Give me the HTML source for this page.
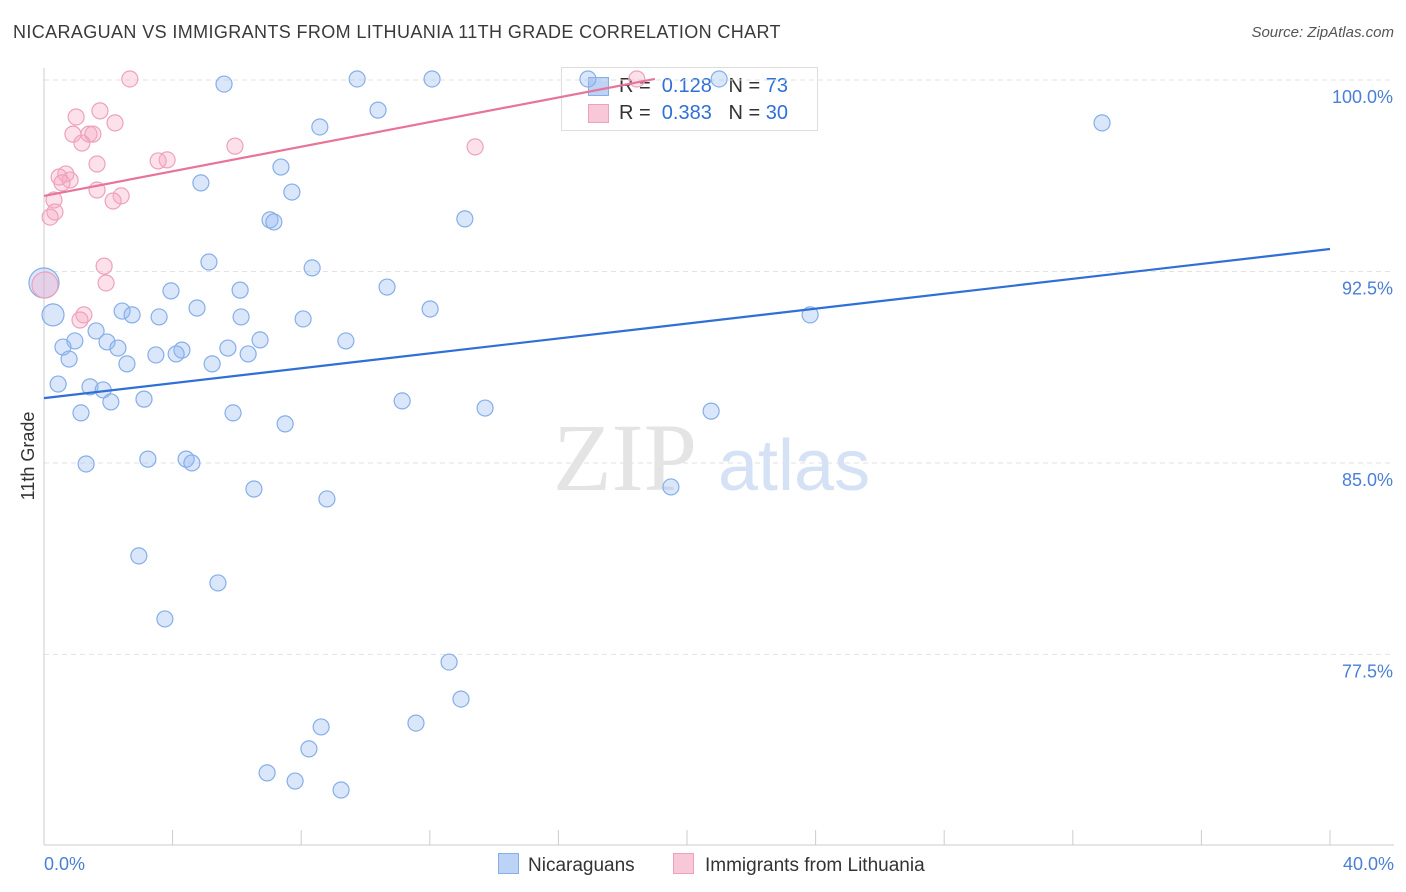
<!DOCTYPE html>
<html><head><meta charset="utf-8">
<style>
body{margin:0;background:#fff;font-family:"Liberation Sans",sans-serif;}
#c{position:relative;width:1406px;height:892px;overflow:hidden;}
.t{position:absolute;white-space:nowrap;}
</style></head>
<body>
<div id="c">
<div class="t" style="left:13px;top:22px;font-size:18px;color:#3a3a3a;letter-spacing:0.38px">NICARAGUAN VS IMMIGRANTS FROM LITHUANIA 11TH GRADE CORRELATION CHART</div>
<div class="t" style="right:12px;top:24px;font-size:15px;color:#555;font-style:italic">Source: ZipAtlas.com</div>
<div class="t" style="left:561px;top:67px;width:255px;height:62px;border:1px solid #ddd;background:#fff;font-size:20px;color:#333;z-index:1">
 <div style="position:absolute;left:26px;top:9px;width:19px;height:17px;background:#bcd3f5;border:1px solid #86aee8"></div>
 <div style="position:absolute;left:57px;top:7px">R = &nbsp;<span style="color:#2f6fd6">0.128</span>&nbsp;&nbsp;&nbsp;N = <span style="color:#2f6fd6">73</span></div>
 <div style="position:absolute;left:26px;top:36px;width:19px;height:17px;background:#f8c8d8;border:1px solid #eda2bc"></div>
 <div style="position:absolute;left:57px;top:34px">R = &nbsp;<span style="color:#2f6fd6">0.383</span>&nbsp;&nbsp;&nbsp;N = <span style="color:#2f6fd6">30</span></div>
</div>
<svg id="s" width="1406" height="892" style="position:absolute;left:0;top:0;z-index:2"></svg>
</div>
<script>
const yTicks=[100,92.5,85,77.5];
const yTickLabels=["100.0%","92.5%","85.0%","77.5%"];
const xTickLabels=["0.0%","40.0%"];
const blueX=[5.60,9.74,12.07,16.92,21.0,10.39,8.58,32.91,7.37,4.88,7.71,7.03,7.15,13.09,5.13,8.34,3.95,6.10,10.67,4.76,2.43,2.74,3.58,6.13,8.06,12.01,23.83,0.28,0.0,1.62,0.96,0.59,1.96,2.30,6.72,9.39,5.72,4.29,4.11,3.48,6.35,5.23,2.58,0.78,0.44,1.43,1.84,2.08,3.11,11.14,13.72,20.75,1.15,5.88,7.50,3.23,4.42,4.60,1.31,6.53,8.80,19.50,2.95,5.41,3.76,12.60,12.97,8.62,11.57,8.24,6.94,7.81,9.24];
const blueY=[99.84,100.04,100.04,100.04,100.04,98.82,98.16,98.32,96.59,95.97,95.61,94.52,94.44,94.56,92.87,92.64,91.74,91.77,91.89,91.07,90.95,90.80,90.72,90.72,90.64,91.03,90.80,90.80,92.05,90.17,89.78,89.54,89.74,89.50,89.82,89.78,89.50,89.42,89.27,89.23,89.27,88.88,88.88,89.07,88.09,87.98,87.86,87.39,87.50,87.43,87.15,87.03,86.96,86.96,86.53,85.15,85.15,85.00,84.96,83.98,83.59,84.06,81.36,80.30,78.89,77.20,75.75,74.66,74.81,73.80,72.86,72.54,72.19];
const blueSize=blueX.map((v,i)=>i===27?11:(i===28?15:8));
const pinkX=[2.67,18.44,1.00,1.74,2.21,0.90,1.40,1.52,1.18,5.94,13.41,1.65,3.83,3.55,0.68,0.47,0.81,0.56,1.65,2.40,2.15,0.31,0.34,0.19,1.87,1.93,0.03,1.24,1.12];
const pinkY=[100.04,100.04,98.55,98.79,98.32,97.88,97.88,97.88,97.53,97.41,97.38,96.71,96.87,96.83,96.32,96.20,96.08,95.97,95.69,95.46,95.26,95.30,94.83,94.63,92.71,92.05,91.97,90.80,90.60];
const pinkSize=pinkX.map((v,i)=>i===26?13:8);
const blueTrendX=[0,40], blueTrendY=[87.54,93.38];
const pinkTrendX=[0,19], pinkTrendY=[95.46,100.04];

const X=v=>44+v/40*1286;
const Y=v=>80+(100-v)*25.53;
const s=document.getElementById('s');
const NS='http://www.w3.org/2000/svg';
function mk(tag,at,parent){const e=document.createElementNS(NS,tag);for(const k in at)e.setAttribute(k,at[k]);(parent||s).appendChild(e);return e;}

yTicks.forEach((v,i)=>{
 const g=mk('line',{x1:44,x2:1394,y1:Y(v),y2:Y(v),stroke:'#e2e2e2','stroke-dasharray':'5,4'});
 
 
 const t=mk('text',{x:1393,y:Y(v)+23,'text-anchor':'end','font-size':18,fill:'#4a7fd6','font-family':'Liberation Sans'});
 t.textContent=yTickLabels[i];
 
 
});
const ax=mk('line',{x1:44,x2:44,y1:68,y2:845,stroke:'#ccc'});


const bx=mk('line',{x1:44,x2:1394,y1:845,y2:845,stroke:'#ccc'});


for(let i=0;i<=10;i++){
 const tk=mk('line',{x1:X(i*4),x2:X(i*4),y1:830,y2:845,stroke:'#ccc'});
 
 
}
[[0,'start',44],[1,'end',1394]].forEach(([i,a,x])=>{
 const t=mk('text',{x:x,y:870,'text-anchor':a,'font-size':18,fill:'#4a7fd6','font-family':'Liberation Sans'});
 t.textContent=xTickLabels[i];
 
 
});
const yt=mk('text',{x:0,y:0,transform:'translate(34,456) rotate(-90)','text-anchor':'middle','font-size':18,fill:'#333','font-family':'Liberation Sans'});
yt.textContent='11th Grade';



const wm=mk('text',{x:553,y:490,'font-size':96,fill:'#e4e4e4','font-family':'Liberation Serif'});
wm.textContent='ZIP';


const wm2=mk('text',{x:718,y:490,'font-size':72,fill:'#d5e2f5','font-family':'Liberation Sans'});
wm2.textContent='atlas';



blueX.forEach((v,i)=>{
 const c=mk('circle',{cx:X(v),cy:Y(blueY[i]),r:blueSize[i],fill:'rgba(150,185,240,0.35)',stroke:'#86aee8','stroke-width':1.2});
 
 
});
pinkX.forEach((v,i)=>{
 const c=mk('circle',{cx:X(v),cy:Y(pinkY[i]),r:pinkSize[i],fill:'rgba(245,170,195,0.35)',stroke:'#eda2bc','stroke-width':1.2});
 
 
});
const bl=mk('line',{x1:X(blueTrendX[0]),y1:Y(blueTrendY[0]),x2:X(blueTrendX[1]),y2:Y(blueTrendY[1]),stroke:'#2f6fd6','stroke-width':2.2});


const pl=mk('line',{x1:X(pinkTrendX[0]),y1:Y(pinkTrendY[0]),x2:X(pinkTrendX[1]),y2:Y(pinkTrendY[1]),stroke:'#e8749a','stroke-width':2.2});


</script>

<div class="t" style="left:498px;top:853px;font-size:19px;color:#333">
 <span style="display:inline-block;width:19px;height:19px;background:#bcd3f5;border:1px solid #86aee8;vertical-align:-3px;margin-right:9px"></span>Nicaraguans</div>
<div class="t" style="left:673px;top:853px;font-size:19px;color:#333">
 <span style="display:inline-block;width:19px;height:19px;background:#f8c8d8;border:1px solid #eda2bc;vertical-align:-3px;margin-right:11px"></span>Immigrants from Lithuania</div>
</body></html>
